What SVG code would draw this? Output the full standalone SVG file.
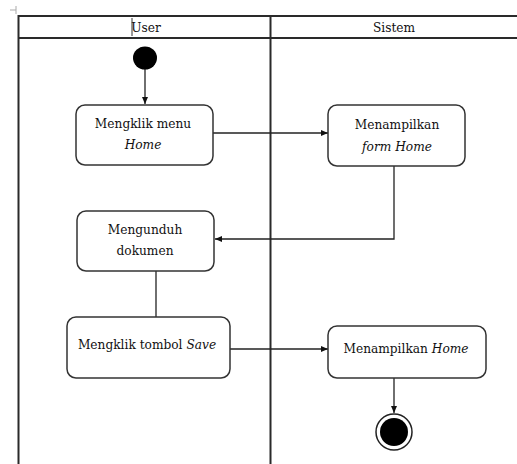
<svg xmlns="http://www.w3.org/2000/svg" width="517" height="464" viewBox="0 0 517 464">
<defs>
<style>
.grid{stroke:#2a2a2a;stroke-width:2;fill:none}
.box{fill:#fff;stroke:#333;stroke-width:1.5}
text{font-family:'DejaVu Serif','Liberation Serif',serif;font-size:12.2px;fill:#111;text-anchor:middle}
.i{font-style:italic}
.c{stroke:#222;stroke-width:1.3;fill:none}
</style>
<marker id="ah" markerWidth="8" markerHeight="8" refX="7" refY="4" orient="auto" markerUnits="userSpaceOnUse">
<path d="M0,1 L7,4 L0,7 Z" fill="#111"/>
</marker>
</defs>
<rect width="517" height="464" fill="#fff"/>
<g id="table">
<path d="M10,10 L16,10 M16,6 L16,14" stroke="#aaa" stroke-width="1" fill="none"/>
<line class="grid" x1="18" y1="16" x2="517" y2="16"/>
<line class="grid" x1="18" y1="38" x2="517" y2="38"/>
<line class="grid" x1="18.5" y1="15" x2="18.5" y2="464" stroke="#555"/>
<line class="grid" x1="270.5" y1="15" x2="270.5" y2="464"/>
<line x1="132" y1="18" x2="132" y2="36" stroke="#333" stroke-width="1"/>
<text x="146" y="32">User</text>
<text x="394" y="32">Sistem</text>
</g>
<g id="connectors">
<line class="c" x1="145" y1="69" x2="145" y2="104" marker-end="url(#ah)"/>
<line class="c" x1="213" y1="133" x2="328" y2="133" marker-end="url(#ah)"/>
<polyline class="c" points="394,166 394,239 215,239" marker-end="url(#ah)"/>
<line class="c" x1="156" y1="271" x2="156" y2="317"/>
<line class="c" x1="230" y1="349" x2="328" y2="349" marker-end="url(#ah)"/>
<line class="c" x1="394" y1="378" x2="394" y2="413" marker-end="url(#ah)"/>
</g>
<g id="start">
<ellipse cx="145" cy="58" rx="12" ry="11.5" fill="#000"/>
</g>
<g id="n1">
<rect class="box" x="76" y="105" width="137" height="60" rx="9"/>
<text x="143" y="128">Mengklik menu</text>
<text class="i" x="143" y="149">Home</text>
</g>
<g id="n2">
<rect class="box" x="328" y="105" width="137" height="61" rx="9"/>
<text x="397" y="129">Menampilkan</text>
<text class="i" x="397" y="151">form Home</text>
</g>
<g id="n3">
<rect class="box" x="77" y="211" width="137" height="60" rx="9"/>
<text x="145" y="234">Mengunduh</text>
<text x="145" y="255">dokumen</text>
</g>
<g id="n4">
<rect class="box" x="67" y="317" width="163" height="61" rx="9"/>
<text x="147" y="349">Mengklik tombol <tspan class="i">Save</tspan></text>
</g>
<g id="n5">
<rect class="box" x="328" y="326" width="158" height="52" rx="9"/>
<text x="406" y="353">Menampilkan <tspan class="i">Home</tspan></text>
</g>
<g id="end">
<circle cx="394" cy="432" r="18" fill="#fff" stroke="#222" stroke-width="1.5"/>
<circle cx="394" cy="432" r="14" fill="#000"/>
</g>
</svg>
